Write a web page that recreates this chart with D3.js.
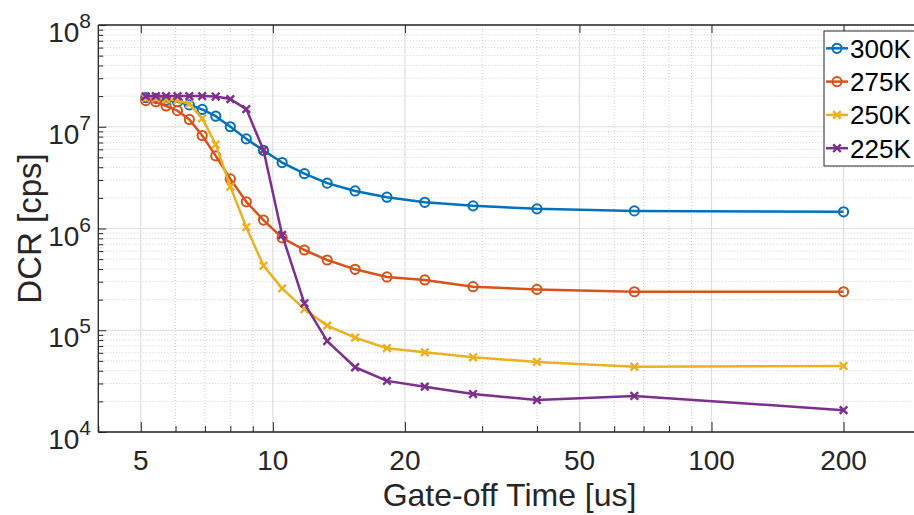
<!DOCTYPE html>
<html><head><meta charset="utf-8">
<script src="https://cdn.jsdelivr.net/npm/d3@7"></script>
<style>html,body{margin:0;padding:0;background:#fff;overflow:hidden}svg{display:block}</style>
</head><body><svg id="c" width="914" height="515"></svg>
<script>
const gateOff = [5.13, 5.41, 5.71, 6.06, 6.45, 6.90, 7.41, 8.00, 8.70, 9.52, 10.5, 11.8, 13.3, 15.4, 18.2, 22.2, 28.6, 40.0, 66.7, 200];
const dcr300K = [19.3e6, 19.0e6, 18.3e6, 17.6e6, 16.4e6, 14.8e6, 12.7e6, 10.0e6, 7.6e6, 5.85e6, 4.45e6, 3.46e6, 2.79e6, 2.34e6, 2.03e6, 1.81e6, 1.67e6, 1.56e6, 1.49e6, 1.46e6];
const dcr275K = [18.1e6, 17.6e6, 16.0e6, 14.4e6, 11.8e6, 8.2e6, 5.17e6, 3.07e6, 1.83e6, 1.21e6, 8.1e5, 6.15e5, 4.9e5, 3.97e5, 3.34e5, 3.12e5, 2.68e5, 2.52e5, 2.39e5, 2.39e5];
const dcr250K = [19.1e6, 19.1e6, 18.7e6, 18.2e6, 16.8e6, 12.1e6, 6.7e6, 2.58e6, 1.03e6, 4.3e5, 2.58e5, 1.61e5, 1.11e5, 8.46e4, 6.66e4, 6.07e4, 5.42e4, 4.88e4, 4.38e4, 4.46e4];
const dcr225K = [19.9e6, 20.0e6, 20.0e6, 20.0e6, 20.0e6, 20.0e6, 19.8e6, 18.7e6, 14.9e6, 5.9e6, 8.63e5, 1.84e5, 7.83e4, 4.33e4, 3.18e4, 2.79e4, 2.36e4, 2.06e4, 2.26e4, 1.64e4];
const seriesNames = ["300K", "275K", "250K", "225K"];
const seriesColors = ["#0072BD", "#D95319", "#EDB120", "#7E2F8E"];
const seriesMarkers = ["o", "o", "x", "x"];
const xTicks = [5, 10, 20, 50, 100, 200];
const yTickExps = [4, 5, 6, 7, 8];
const xLabel = "Gate-off Time [us]";
const yLabel = "DCR [cps]";

const seriesValues = [dcr300K, dcr275K, dcr250K, dcr225K];
const L = 98.3, R = 920.8, T = 25, B = 432;
const axisCol = "#262626";
const font = "'Liberation Sans', Arial, Helvetica, sans-serif";
const svg = d3.select("#c");
const x = d3.scaleLog().domain([4, 300]).range([L, R]);
const y = d3.scaleLog().domain([1e4, 1e8]).range([B, T]);

// minor positions
const xMinor = [];
for (let d = 1; d <= 100; d *= 10) for (let m = 1; m <= 9; m++) { const v = m * d; if (v >= 4 && v <= 300 && !xTicks.includes(v)) xMinor.push(v); }
const yMinor = [];
for (let e = 4; e < 8; e++) for (let m = 2; m <= 9; m++) yMinor.push(m * Math.pow(10, e));
const yMajor = yTickExps.map(e => Math.pow(10, e));

const g = svg.append("g");
// minor grid
g.selectAll(".xmg").data(xMinor).join("line").attr("x1", d => x(d)).attr("x2", d => x(d)).attr("y1", T).attr("y2", B)
  .attr("stroke", "#cfcfcf").attr("stroke-width", 1).attr("stroke-dasharray", "1,2");
g.selectAll(".ymg").data(yMinor).join("line").attr("y1", d => y(d)).attr("y2", d => y(d)).attr("x1", L).attr("x2", R)
  .attr("stroke", "#cfcfcf").attr("stroke-width", 1).attr("stroke-dasharray", "1,2");
// major grid
g.selectAll(".xg").data(xTicks).join("line").attr("x1", d => x(d)).attr("x2", d => x(d)).attr("y1", T).attr("y2", B)
  .attr("stroke", "#dedede").attr("stroke-width", 1.2);
g.selectAll(".yg").data(yMajor).join("line").attr("y1", d => y(d)).attr("y2", d => y(d)).attr("x1", L).attr("x2", R)
  .attr("stroke", "#dedede").attr("stroke-width", 1.2);

// axes using d3 axis (inward ticks)
const fmt = () => "";
svg.append("g").attr("transform", `translate(0,${B})`)
  .call(d3.axisTop(x).tickValues(xTicks).tickFormat(fmt).tickSize(10).tickSizeOuter(0))
  .call(a => a.select(".domain").remove());
svg.append("g").attr("transform", `translate(0,${B})`)
  .call(d3.axisTop(x).tickValues(xMinor).tickFormat(fmt).tickSize(6).tickSizeOuter(0))
  .call(a => a.select(".domain").remove());
svg.append("g").attr("transform", `translate(0,${T})`)
  .call(d3.axisBottom(x).tickValues(xTicks).tickFormat(fmt).tickSize(8).tickSizeOuter(0))
  .call(a => a.select(".domain").remove());
svg.append("g").attr("transform", `translate(${L},0)`)
  .call(d3.axisRight(y).tickValues(yMajor).tickFormat(fmt).tickSize(8).tickSizeOuter(0))
  .call(a => a.select(".domain").remove());
svg.append("g").attr("transform", `translate(${L},0)`)
  .call(d3.axisRight(y).tickValues(yMinor).tickFormat(fmt).tickSize(5).tickSizeOuter(0))
  .call(a => a.select(".domain").remove());
svg.selectAll(".tick line").attr("stroke", axisCol).attr("stroke-width", 1);
// frame
svg.append("line").attr("x1", L).attr("x2", R).attr("y1", B).attr("y2", B).attr("stroke", axisCol).attr("stroke-width", 1.3);
svg.append("line").attr("x1", L).attr("x2", R).attr("y1", T).attr("y2", T).attr("stroke", axisCol).attr("stroke-width", 1.3);
svg.append("line").attr("x1", L).attr("x2", L).attr("y1", T).attr("y2", B).attr("stroke", axisCol).attr("stroke-width", 1.3);
svg.append("line").attr("x1", R).attr("x2", R).attr("y1", T).attr("y2", B).attr("stroke", axisCol).attr("stroke-width", 1.3);

// x tick labels
svg.selectAll(".xl").data(xTicks).join("text").attr("x", d => x(d)).attr("y", 470)
  .attr("text-anchor", "middle").attr("font-family", font).attr("font-size", 28).attr("fill", axisCol).text(d => d);
// y tick labels
const yl = svg.selectAll(".yl").data(yTickExps).join("text").attr("x", 91).attr("y", d => y(Math.pow(10, d)) + 17)
  .attr("text-anchor", "end").attr("font-family", font).attr("fill", axisCol);
yl.append("tspan").attr("font-size", 28).text("10");
yl.append("tspan").attr("font-size", 21).attr("dy", -14).text(d => d);
// axis labels
svg.append("text").attr("x", (L + R) / 2).attr("y", 506).attr("text-anchor", "middle").attr("font-family", font)
  .attr("font-size", 32).attr("fill", axisCol).text(xLabel);
svg.append("text").attr("transform", `translate(41,${(T + B) / 2}) rotate(-90)`).attr("text-anchor", "middle").attr("font-family", font)
  .attr("font-size", 33).attr("fill", axisCol).text(yLabel);

// markers
function drawMarker(sel, type, color) {
  if (type === "o") {
    sel.append("circle").attr("r", 4.6).attr("fill", "none").attr("stroke", color).attr("stroke-width", 2);
  } else {
    const s = 3.8;
    sel.append("path").attr("d", `M${-s},${-s}L${s},${s}M${-s},${s}L${s},${-s}`).attr("stroke", color).attr("stroke-width", 2.4).attr("fill", "none");
  }
}
const line = d3.line().x(d => x(d[0])).y(d => y(d[1]));
const plot = svg.append("g");
seriesValues.forEach((vals, i) => {
  const pts = gateOff.map((t, k) => [t, vals[k]]);
  const sg = plot.append("g");
  sg.append("path").datum(pts).attr("d", line).attr("fill", "none").attr("stroke", seriesColors[i]).attr("stroke-width", 2.5).attr("stroke-linejoin", "round");
  sg.selectAll(".m").data(pts).join("g").attr("transform", d => `translate(${x(d[0])},${y(d[1])})`)
    .each(function () { drawMarker(d3.select(this), seriesMarkers[i], seriesColors[i]); });
});

// legend
const lg = svg.append("g");
lg.append("rect").attr("x", 824).attr("y", 31).attr("width", 110).attr("height", 135).attr("fill", "#fff").attr("stroke", axisCol).attr("stroke-width", 1);
seriesNames.forEach((n, i) => {
  const cy = 48.3 + i * 33.3;
  lg.append("line").attr("x1", 826).attr("x2", 848).attr("y1", cy).attr("y2", cy).attr("stroke", seriesColors[i]).attr("stroke-width", 2.5);
  const mg = lg.append("g").attr("transform", `translate(837,${cy})`);
  drawMarker(mg, seriesMarkers[i], seriesColors[i]);
  lg.append("text").attr("x", 850).attr("y", cy + 9.5).attr("font-family", font).attr("font-size", 26).attr("fill", "#000").text(n);
});
</script></body></html>
